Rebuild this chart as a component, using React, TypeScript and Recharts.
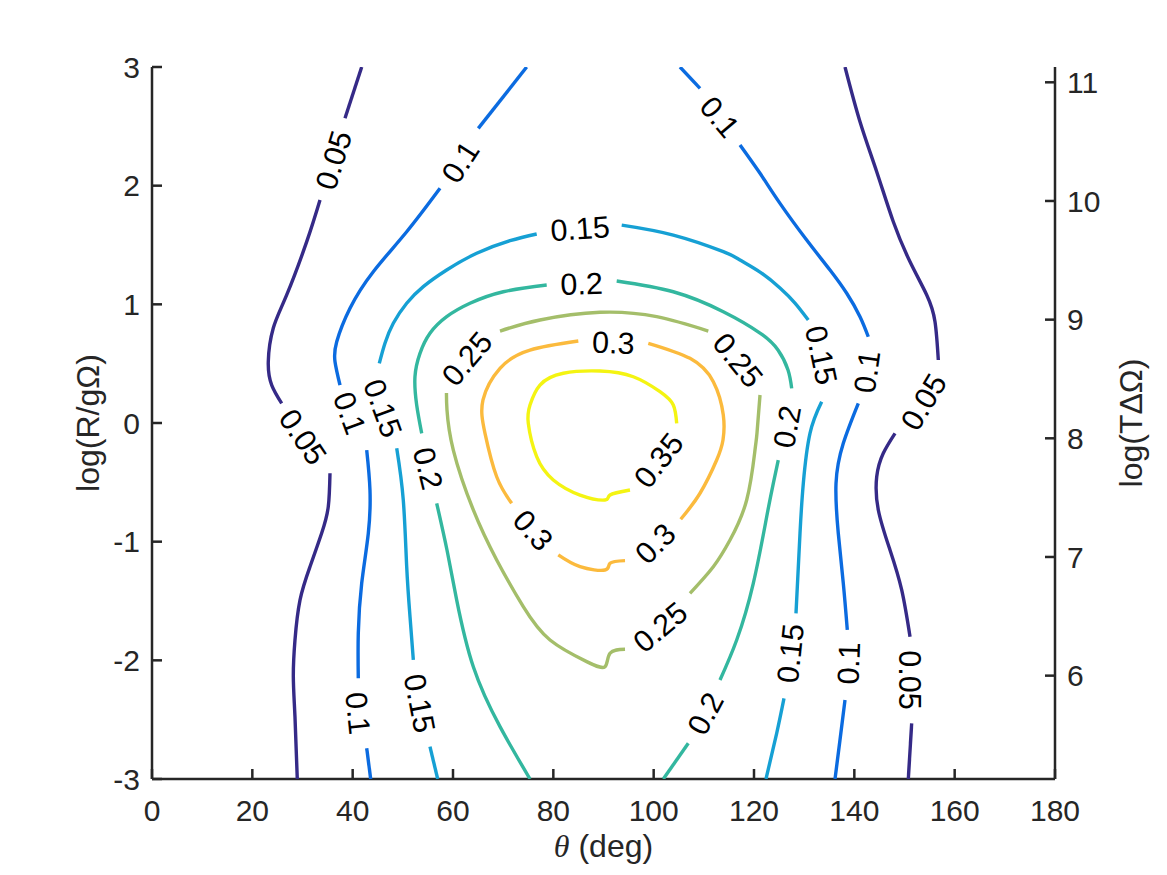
import React from 'react';
import { ComposedChart, Scatter, XAxis, YAxis } from 'recharts';

type Pt = [number, number];

// θ (deg), log(R/gΩ) pairs; gaps are where MATLAB put the labels
const level005: Pt[][] = [
  [[41.8, 3.0], [38.47, 2.568]],
  [[33.49, 1.879], [30.84, 1.528], [26.85, 1.079], [24.18, 0.8], [23.18, 0.517], [23.86, 0.32], [25.85, 0.166]],
  [[35.48, -0.424], [35.14, -0.705], [33.83, -0.927], [31.49, -1.211], [29.5, -1.492], [28.5, -1.829], [28.17, -2.138], [28.5, -2.475], [28.96, -3.0]],
  [[138.14, 3.0], [141.13, 2.539], [144.46, 2.118], [147.77, 1.696], [151.1, 1.359], [154.43, 1.079], [156.08, 0.854], [156.74, 0.531]],
  [[148.11, -0.087], [145.77, -0.255], [144.46, -0.453], [144.78, -0.733], [147.11, -1.07], [149.44, -1.407], [151.1, -1.801]],
  [[151.43, -2.531], [150.76, -3.0]],
];

const level010: Pt[][] = [
  [[74.69, 3.0], [65.04, 2.483]],
  [[57.41, 1.978], [50.77, 1.612], [44.11, 1.275], [39.47, 0.967], [36.82, 0.685], [36.48, 0.517], [37.47, 0.32]],
  [[42.8, -0.228], [43.45, -0.565], [43.12, -0.929], [41.8, -1.351], [41.12, -1.772], [41.12, -2.151]],
  [[42.8, -2.741], [43.59, -3.0]],
  [[105.25, 3.0], [109.24, 2.82]],
  [[117.21, 2.343], [121.2, 2.104], [125.18, 1.851], [130.5, 1.542], [135.15, 1.289], [138.48, 1.093], [141.13, 0.896], [142.78, 0.727]],
  [[140.79, 0.166], [137.8, -0.171], [136.35, -0.508], [136.8, -0.929], [137.8, -1.351], [138.6, -1.744]],
  [[138.14, -2.334], [137.14, -2.671], [136.15, -3.0]],
];

const level015: Pt[][] = [
  [[56.95, -3.0], [55.41, -2.728]],
  [[52.09, -1.997], [51.43, -1.632], [50.77, -1.211], [50.09, -0.649], [48.78, -0.213]],
  [[45.31, 0.503], [46.44, 0.672], [48.1, 0.84], [50.77, 1.009], [54.08, 1.149], [58.74, 1.289], [64.72, 1.43], [71.36, 1.536], [76.68, 1.593]],
  [[93.63, 1.668], [103.91, 1.584], [113.88, 1.444], [117.21, 1.374], [121.2, 1.272], [125.18, 1.138], [128.17, 1.011], [130.82, 0.868]],
  [[133.49, 0.179], [131.16, -0.087], [129.83, -0.508], [129.17, -0.929], [128.37, -1.604]],
  [[125.98, -2.32], [124.52, -2.615], [122.39, -3.0]],
];

const level020: Pt[][] = [
  [[75.35, -3.0], [69.37, -2.559], [64.05, -2.054], [60.74, -1.492], [58.8, -1.07], [56.75, -0.677]],
  [[53.76, -0.087], [52.76, 0.152], [52.42, 0.39], [53.42, 0.587], [55.41, 0.756], [58.74, 0.896], [63.39, 1.009], [70.03, 1.106], [78.68, 1.163]],
  [[92.63, 1.197], [103.91, 1.106], [113.88, 0.938], [121.2, 0.758], [124.78, 0.615], [126.78, 0.447], [127.51, 0.292]],
  [[124.84, -0.312], [123.85, -0.508], [122.53, -0.79], [119.86, -1.351], [116.55, -1.829], [113.22, -2.166]],
  [[106.9, -2.699], [101.92, -3.0]],
];

const level025: Pt[][] = [
  [[69.37, 0.775], [77.34, 0.868], [89.3, 0.933], [100.6, 0.896], [110.89, 0.775]],
  [[121.2, 0.236], [120.6, -0.084], [120.2, -0.228], [118.54, -0.649], [115.22, -0.986], [111.89, -1.211], [107.24, -1.435]],
  [[94.29, -1.907], [91.3, -1.941], [90.3, -2.054], [86.65, -2.011], [79.34, -1.829], [74.01, -1.548], [68.71, -1.154], [64.05, -0.733], [60.06, -0.228], [58.8, 0.11], [58.7, 0.253]],
];

const level030: Pt[][] = [
  [[71.7, -0.677], [68.71, -0.453], [66.38, -0.087], [65.98, 0.194], [69.37, 0.461], [75.35, 0.615], [84.98, 0.691]],
  [[98.93, 0.672], [107.24, 0.545], [111.89, 0.348], [113.88, 0.067], [113.82, -0.143], [112.56, -0.312], [109.24, -0.592], [105.39, -0.811]],
  [[94.29, -1.16], [91.3, -1.182], [90.3, -1.239], [85.32, -1.211], [80.99, -1.112]],
];

const level035: Pt[][] = [
  [[95.28, -0.565], [91.3, -0.607], [90.3, -0.649], [85.32, -0.607], [79.99, -0.48], [76.68, -0.284], [75.01, -0.003], [75.35, 0.152], [77.34, 0.32], [81.99, 0.419], [89.3, 0.438], [95.94, 0.39], [101.26, 0.264], [103.91, 0.152], [104.59, -0.003]],
];

const levels = [level005, level010, level015, level020, level025, level030, level035];
const levelColors = ['#352A87', '#0B6BE0', '#16A0D4', '#33B79F', '#A4BE6A', '#FBBA3D', '#F4F412'];

// clabel text, its spot on the contour and its rotation
const contourLabels = [
  { x: 36.14, y: 2.216, text: '0.05', angle: -73 },
  { x: 30.16, y: -0.115, text: '0.05', angle: 56 },
  { x: 153.75, y: 0.179, text: '0.05', angle: -59 },
  { x: 151.1, y: -2.166, text: '0.05', angle: 90 },
  { x: 61.4, y: 2.202, text: '0.1', angle: -57 },
  { x: 39.47, y: 0.084, text: '0.1', angle: 70 },
  { x: 41.12, y: -2.446, text: '0.1', angle: 84 },
  { x: 113.22, y: 2.581, text: '0.1', angle: 50 },
  { x: 142.46, y: 0.432, text: '0.1', angle: -82 },
  { x: 138.8, y: -2.025, text: '0.1', angle: -88 },
  { x: 85.32, y: 1.641, text: '0.15', angle: -4 },
  { x: 46.11, y: 0.126, text: '0.15', angle: 70 },
  { x: 53.42, y: -2.362, text: '0.15', angle: 79 },
  { x: 133.49, y: 0.573, text: '0.15', angle: 78 },
  { x: 127.17, y: -1.941, text: '0.15', angle: -84 },
  { x: 85.65, y: 1.177, text: '0.2', angle: -2 },
  { x: 55.08, y: -0.382, text: '0.2', angle: 76 },
  { x: 126.52, y: -0.031, text: '0.2', angle: -80 },
  { x: 110.23, y: -2.446, text: '0.2', angle: -62 },
  { x: 62.73, y: 0.545, text: '0.25', angle: -50 },
  { x: 116.87, y: 0.531, text: '0.25', angle: 51 },
  { x: 101.26, y: -1.717, text: '0.25', angle: -40 },
  { x: 91.95, y: 0.68, text: '0.3', angle: 2 },
  { x: 100.27, y: -1.014, text: '0.3', angle: -45 },
  { x: 76.01, y: -0.902, text: '0.3', angle: 48 },
  { x: 100.92, y: -0.312, text: '0.35', angle: -52 },
];

const xTicks = [0, 20, 40, 60, 80, 100, 120, 140, 160, 180];
const yTicks = [-3, -2, -1, 0, 1, 2, 3];
const rightTicks = [6, 7, 8, 9, 10, 11];
const rightDomain = [5.129, 11.129];

const AXIS = '#262626';
const FONT = '"Liberation Sans", Arial, Helvetica, sans-serif';
const TM = 12;
const TL = 10;

const EmptyShape = () => <g />;

const LabelShape = (props: any) => {
  const { cx, cy, payload } = props;
  return (
    <text
      x={cx}
      y={cy}
      dy="0.36em"
      textAnchor="middle"
      fontFamily={FONT}
      fontSize={30.5}
      fill="#000"
      transform={`rotate(${payload.angle} ${cx} ${cy})`}
    >
      {payload.text}
    </text>
  );
};

const BottomTick = (props: any) => {
  const { x, y, payload } = props;
  const ay = y - TM;
  return (
    <g>
      <line x1={x} x2={x} y1={ay} y2={ay - TL} stroke={AXIS} strokeWidth={2.5} />
      <text x={x} y={ay + 42} textAnchor="middle" fontFamily={FONT} fontSize={30} fill={AXIS}>
        {payload.value}
      </text>
    </g>
  );
};

const TopTick = (props: any) => {
  const { x, y } = props;
  const ay = y + TM;
  return <line x1={x} x2={x} y1={ay} y2={ay + TL} stroke={AXIS} strokeWidth={2.5} />;
};

const LeftTick = (props: any) => {
  const { x, y, payload } = props;
  const ax = x + TM;
  return (
    <g>
      <line x1={ax} x2={ax + TL} y1={y} y2={y} stroke={AXIS} strokeWidth={2.5} />
      <text x={x} y={y} dy="0.36em" textAnchor="end" fontFamily={FONT} fontSize={30} fill={AXIS}>
        {payload.value}
      </text>
    </g>
  );
};

const RightTick = (props: any) => {
  const { x, y, payload } = props;
  const ax = x - TM;
  return (
    <g>
      <line x1={ax} x2={ax - TL} y1={y} y2={y} stroke={AXIS} strokeWidth={2.5} />
      <text x={x} y={y} dy="0.36em" textAnchor="start" fontFamily={FONT} fontSize={30} fill={AXIS}>
        {payload.value}
      </text>
    </g>
  );
};

const XTitle = (props: any) => {
  const vb = props.viewBox;
  return (
    <text x={vb.x + vb.width / 2} y={vb.y + 78} textAnchor="middle" fontFamily={FONT} fontSize={32} fill={AXIS}>
      <tspan fontFamily='"Liberation Serif", "Times New Roman", serif' fontStyle="italic">θ</tspan>
      <tspan> (deg)</tspan>
    </text>
  );
};

const LeftTitle = (props: any) => {
  const vb = props.viewBox;
  const cx = vb.x - 5;
  const cy = vb.y + vb.height / 2;
  return (
    <text x={cx} y={cy} dy="0.36em" textAnchor="middle" fontFamily={FONT} fontSize={32} fill={AXIS} transform={`rotate(-90 ${cx} ${cy})`}>
      log(R/gΩ)
    </text>
  );
};

const RightTitle = (props: any) => {
  const vb = props.viewBox;
  const cx = vb.x + vb.width + 15;
  const cy = vb.y + vb.height / 2;
  return (
    <text x={cx} y={cy} dy="0.36em" textAnchor="middle" fontFamily={FONT} fontSize={32} fill={AXIS} transform={`rotate(-90 ${cx} ${cy})`}>
      log(TΔΩ)
    </text>
  );
};

export default function App() {
  const segments: { color: string; pts: { x: number; y: number }[] }[] = [];
  levels.forEach((segs, i) => {
    segs.forEach((s) => segments.push({ color: levelColors[i], pts: s.map(([x, y]) => ({ x, y })) }));
  });

  return (
    <div style={{ position: 'absolute', left: 0, top: 0, background: '#fff' }}>
      <ComposedChart width={1167} height={875} margin={{ top: 67, right: 52, bottom: 36, left: 92 }}>
        <XAxis
          xAxisId="b"
          dataKey="x"
          type="number"
          domain={[0, 180]}
          ticks={xTicks}
          allowDataOverflow
          height={60}
          tickSize={0}
          tickMargin={TM}
          tick={<BottomTick />}
          axisLine={{ stroke: AXIS, strokeWidth: 2.5 }}
          label={<XTitle />}
        />
        <XAxis
          xAxisId="t"
          orientation="top"
          type="number"
          domain={[0, 180]}
          ticks={xTicks}
          allowDataOverflow
          height={0}
          tickSize={0}
          tickMargin={TM}
          tick={<TopTick />}
          axisLine={{ stroke: AXIS, strokeWidth: 2.5 }}
        />
        <YAxis
          yAxisId="l"
          dataKey="y"
          type="number"
          domain={[-3, 3]}
          ticks={yTicks}
          allowDataOverflow
          width={60}
          tickSize={0}
          tickMargin={TM}
          tick={<LeftTick />}
          axisLine={{ stroke: AXIS, strokeWidth: 2.5 }}
          label={<LeftTitle />}
        />
        <YAxis
          yAxisId="r"
          orientation="right"
          type="number"
          domain={rightDomain}
          ticks={rightTicks}
          allowDataOverflow
          width={60}
          tickSize={0}
          tickMargin={TM}
          tick={<RightTick />}
          axisLine={{ stroke: AXIS, strokeWidth: 2.5 }}
          label={<RightTitle />}
        />
        {segments.map((s, i) => (
          <Scatter
            key={i}
            xAxisId="b"
            yAxisId="l"
            data={s.pts}
            fill={s.color}
            line={{ stroke: s.color, strokeWidth: 3.4 }}
            lineJointType="natural"
            shape={EmptyShape}
            isAnimationActive={false}
          />
        ))}
        <Scatter
          xAxisId="b"
          yAxisId="l"
          data={contourLabels}
          shape={LabelShape}
          isAnimationActive={false}
        />
      </ComposedChart>
    </div>
  );
}
